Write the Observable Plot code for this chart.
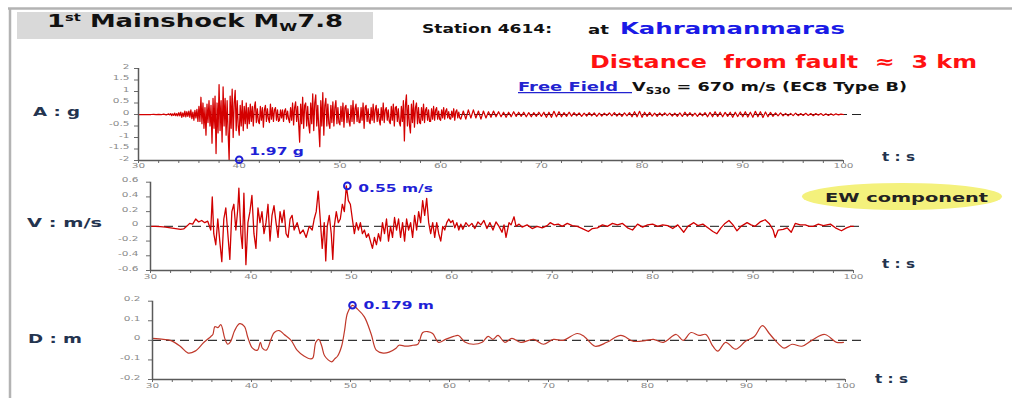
<!DOCTYPE html>
<html><head><meta charset="utf-8">
<script src="https://cdn.jsdelivr.net/npm/d3@7"></script>
<script src="https://cdn.jsdelivr.net/npm/@observablehq/plot@0.6"></script>
<style>
html,body{margin:0;padding:0;background:#fff;overflow:hidden}
#root{position:relative;width:1012px;height:398px;overflow:hidden;font-family:"DejaVu Sans",sans-serif}
#root svg{position:absolute;left:0;max-width:none}
</style></head><body><div id="root"></div>
<script>
// ---------- DATA ----------
// acceleration (g): three sampled segments
const aEarlyStart = 30, aEarlyStep = 0.25;
const aEarly = [0,0,0,0, 0,0,0.01,-0.01, 0.01,-0.01,0.02,-0.02];
const aStrongStart = 33, aStrongStep = 0.1;
const aStrong = [
 0.03,-0.02,0.04,-0.05,0.03,-0.04,0.06,-0.05,0.04,-0.06,
 0.08,-0.06,0.1,-0.12,0.07,-0.09,0.15,-0.1,0.12,-0.08,
 0.15,-0.12,0.2,-0.18,0.1,-0.25,0.18,-0.15,0.22,-0.3,
 0.35,-0.3,0.75,-0.4,0.5,-0.6,0.3,-0.9,0.45,-0.35,
 0.6,-0.5,0.4,-1.25,0.7,-0.6,0.8,-1.7,0.5,-0.8,
 1.3,-0.7,0.6,-1.2,1.2,-0.5,0.7,-0.9,0.6,-0.8,
 -2.0,0.8,-0.6,1.1,-1.0,0.5,1.05,-0.7,0.6,-0.5,
 -0.9,0.4,-0.5,0.6,-0.7,0.35,-0.4,0.5,-0.6,0.3,
 -0.4,0.45,-0.3,0.35,-0.5,0.3,0.55,-0.35,0.25,-0.3,
 -0.4,0.35,-0.25,0.3,-0.55,0.2,0.4,-0.3,0.25,-0.2,
 -0.35,0.45,-0.2,0.3,-0.3,0.2,0.3,-0.25,0.2,-0.3,
 -0.25,0.2,-0.15,0.2,-0.3,0.15,0.25,-0.2,0.15,-0.2,
 -0.35,0.3,-0.25,0.5,-0.45,0.3,0.55,-0.3,0.35,-0.4,
 -1.2,0.45,-0.4,0.75,-0.6,0.4,0.5,-0.5,0.35,-0.45,
 -0.8,0.5,-0.4,0.9,-0.7,0.5,0.85,-0.5,0.4,-0.6,
 -1.4,0.6,-0.5,0.95,-0.9,0.4,0.7,-0.5,0.45,-0.4,
 -0.6,0.4,-0.35,0.55,-0.5,0.3,0.6,-0.4,0.3,-0.35,
 -0.45,0.35,-0.3,0.5,-0.55,0.3,0.4,-0.35,0.25,-0.3,
 -0.5,0.4,-0.3,0.6,-0.4,0.25,0.45,-0.3,0.3,-0.35,
 -0.35,0.3,-0.25,0.5,-0.6,0.3,0.4,-0.3,0.25,-0.3,
 -0.4,0.3,-0.25,0.45,-0.35,0.2,0.4,-0.3,0.25,-0.25,
 -0.45,0.3,-0.25,0.5,-0.35,0.2,0.3,-0.25,0.2,-0.3,
 -0.4,0.35,-0.25,0.45,-0.5,0.3,0.35,-0.3,0.25,-0.35,
 -0.5,0.35,-0.3,0.6,-1.15,0.4,0.85,-0.5,0.4,-0.45,
 -0.8,0.45,-0.35,0.6,-0.55,0.3,0.5,-0.4,0.3,-0.35,
 -0.4,0.3,-0.25,0.45,-0.35,0.2,0.3,-0.25,0.2,-0.3,
 -0.3,0.25,-0.2,0.35,-0.25,0.2,0.3,-0.2,0.15,-0.2,
 -0.25,0.2,-0.15,0.3,-0.2,0.15,0.25,-0.15,0.12,-0.18,
 -0.2,0.15,-0.12,0.25,-0.25,0.12,0.2,-0.15,0.1,-0.15
];
const aLateStart = 62, aLateStep = 0.25;
const aLate = [
 -0.2,0.15,-0.2,0.2,
 -0.15,0.2,-0.15,0.15,
 -0.2,0.15,-0.15,0.12,
 -0.12,0.15,-0.1,0.12,
 -0.1,0.1,-0.12,0.1,
 -0.1,0.12,-0.08,0.1,
 -0.08,0.1,-0.1,0.08,
 -0.1,0.08,-0.08,0.1,
 -0.08,0.1,-0.12,0.1,
 -0.12,0.14,-0.1,0.12,
 -0.1,0.08,-0.08,0.1,
 -0.07,0.08,-0.06,0.07,
 -0.08,0.06,-0.07,0.08,
 -0.06,0.07,-0.08,0.06,
 -0.07,0.06,-0.05,0.07,
 -0.06,0.08,-0.07,0.06,
 -0.08,0.07,-0.06,0.08,
 -0.1,0.12,-0.1,0.14,
 -0.12,0.1,-0.08,0.09,
 -0.07,0.06,-0.08,0.07,
 -0.06,0.07,-0.05,0.06,
 -0.07,0.06,-0.08,0.07,
 -0.08,0.1,-0.07,0.08,
 -0.07,0.06,-0.08,0.07,
 -0.06,0.08,-0.1,0.09,
 -0.1,0.12,-0.09,0.1,
 -0.1,0.09,-0.08,0.1,
 -0.12,0.1,-0.09,0.11,
 -0.1,0.12,-0.11,0.1,
 -0.12,0.14,-0.1,0.12,
 -0.13,0.11,-0.1,0.09,
 -0.08,0.07,-0.06,0.07,
 -0.06,0.05,-0.06,0.05,
 -0.05,0.06,-0.05,0.04,
 -0.04,0.05,-0.04,0.04,
 -0.05,0.04,-0.03,0.04,
 -0.04,0.03,-0.04,0.03,
 -0.03,0.03,-0.02,0.02,
 0
];
// velocity (m/s): [t, v]
const vSeries = [
 [30,0],[30.5,0],[31,-0.005],[31.5,-0.01],[32,-0.02],[32.5,-0.03],[33,-0.04],[33.3,-0.035],[33.6,0],[33.9,0.04],
 [34.2,0.03],[34.5,0.1],[34.8,0.06],[35.1,0.08],[35.4,0.05],[35.7,0.07],[36.0,-0.05],[36.15,0.4],[36.3,-0.1],[36.5,-0.25],
 [36.7,0.1],[36.9,-0.2],[37.1,-0.48],[37.3,0.1],[37.5,0.25],[37.7,-0.1],[37.9,-0.45],[38.1,0.2],[38.3,0.3],[38.5,-0.05],
 [38.7,0.25],[38.8,0.52],[39.0,-0.1],[39.15,-0.3],[39.3,0.45],[39.5,-0.52],[39.7,0.05],[39.9,0.2],[40.1,0.42],[40.3,-0.1],
 [40.5,-0.3],[40.7,0.25],[40.9,0.05],[41.1,0.2],[41.3,-0.1],[41.5,0.05],[41.7,0.3],[41.9,-0.2],[42.1,0.15],[42.3,0.28],
 [42.5,0.05],[42.7,-0.15],[42.9,0.2],[43.1,0.05],[43.3,0.22],[43.5,-0.1],[43.7,-0.15],[43.9,0.1],[44.1,0.15],[44.3,-0.05],
 [44.6,0.05],[44.9,-0.1],[45.2,-0.05],[45.5,-0.15],[45.8,0],[46.1,-0.05],[46.3,0.1],[46.5,0.2],[46.7,0.48],[46.9,0.1],
 [47.1,-0.3],[47.3,0.05],[47.45,-0.47],[47.6,0],[47.8,0.15],[48.0,-0.1],[48.15,-0.45],[48.3,0],[48.5,0.2],[48.7,0.05],
 [48.9,0.1],[49.1,0.3],[49.3,0.2],[49.5,0.55],[49.7,0.35],[49.9,0.3],[50.1,0.1],[50.3,-0.1],[50.5,0.05],[50.7,-0.05],
 [50.9,0.05],[51.1,-0.1],[51.3,-0.05],[51.5,-0.15],[51.7,-0.1],[51.9,-0.2],[52.1,-0.3],[52.3,-0.15],[52.5,-0.25],[52.7,-0.1],
 [52.9,-0.2],[53.1,0.05],[53.3,-0.1],[53.5,0.1],[53.7,-0.2],[53.9,0],[54.1,-0.15],[54.3,0.12],[54.5,-0.05],[54.7,0.1],
 [54.9,-0.15],[55.1,0.05],[55.3,-0.2],[55.5,0.1],[55.7,-0.05],[55.9,0.05],[56.1,-0.15],[56.3,0.15],[56.5,-0.05],[56.7,0.2],
 [56.9,0.05],[57.1,0.35],[57.3,0.15],[57.5,0.38],[57.7,0.05],[57.9,-0.1],[58.1,0.05],[58.3,-0.15],[58.5,0.05],[58.7,-0.1],
 [58.9,-0.2],[59.1,0],[59.3,-0.05],[59.5,0.05],[59.7,0.1],[59.9,0.05],[60.1,0.08],[60.3,-0.02],[60.5,0.05],[60.7,-0.05],
 [60.9,0.03],[61.1,-0.04],[61.4,0.05],[61.7,0],[62.0,0.04],[62.3,-0.03],[62.6,0.06],[62.9,0.02],[63.2,0.08],[63.5,-0.03],
 [63.8,0.05],[64.1,-0.05],[64.4,0.06],[64.7,0],[65.0,-0.08],[65.2,0.02],[65.4,-0.15],[65.7,0.05],[65.9,0.02],[66.2,0.13],
 [66.4,0],[66.7,0.03],[67.0,-0.01],[67.5,0.02],[68.0,-0.03],[68.5,0],[69.0,-0.02],[69.5,0.01],[69.8,0.05],[70.2,0.02],
 [70.6,0.03],[71.0,0],[71.5,0.04],[72.0,0.01],[72.5,0],[73.0,-0.03],[73.6,-0.07],[74.0,-0.03],[74.5,-0.02],[75.0,0.02],
 [75.5,0],[76.0,0.04],[76.5,0.02],[77.0,0.04],[77.5,-0.02],[78.0,-0.05],[78.5,0.03],[79.0,-0.01],[79.5,0.02],[80.0,0.03],
 [80.5,0],[81.0,0.02],[81.5,0.01],[82.0,-0.03],[82.5,0.02],[83.1,-0.08],[83.5,0],[84.1,0.05],[84.5,0.01],[85.0,0.03],
 [85.5,-0.02],[86.0,-0.07],[86.4,-0.1],[86.8,-0.02],[87.2,0.04],[87.6,0.08],[88.0,0.02],[88.4,-0.06],[88.8,0],[89.4,0.05],
 [89.8,0.02],[90.2,0],[90.7,0.06],[91.2,0.09],[91.6,0.04],[92.0,-0.05],[92.2,-0.15],[92.5,-0.05],[93.0,-0.04],[93.4,-0.02],
 [93.8,-0.08],[94.2,0.04],[94.7,0.02],[95.2,0.02],[95.6,0],[96.0,0],[96.5,0.03],[97.0,0.01],[97.7,0.03],[98.2,-0.02],
 [98.8,-0.06],[99.3,-0.02],[99.7,0],[100,0]
];
// displacement (m): [t, d]
const dSeries = [
 [30,0.01],[31.1,0.005],[31.8,0],[32.8,-0.03],[33.6,-0.065],[34.3,-0.055],[35.2,-0.01],[35.9,0.02],[36.1,0.03],[36.3,0.07],
 [36.6,0.065],[36.9,0.08],[37.3,0.01],[37.6,-0.02],[37.9,-0.005],[38.3,0.05],[38.8,0.085],[39.3,0.07],[39.6,0.02],[40.1,-0.04],
 [40.6,-0.05],[40.9,-0.01],[41.1,-0.04],[41.5,-0.05],[42.0,0.01],[42.3,0.04],[42.8,0.05],[43.3,0.03],[44.0,0],[44.6,-0.05],
 [45.3,-0.08],[46.0,-0.095],[46.2,-0.09],[46.5,-0.01],[46.8,0.005],[47.1,-0.03],[47.4,-0.08],[48.1,-0.11],[48.4,-0.095],[48.7,-0.08],
 [49.1,-0.03],[49.4,0.05],[49.7,0.14],[50.2,0.179],[50.7,0.16],[51.4,0.12],[52.1,0.03],[52.6,-0.05],[53.3,-0.065],[53.9,-0.06],
 [54.6,-0.04],[54.9,-0.025],[55.6,-0.03],[56.3,-0.025],[56.8,-0.02],[57.3,0.04],[57.8,0.045],[58.3,0.035],[58.9,-0.01],[59.6,0.005],
 [60.4,0.02],[60.9,0.025],[61.6,-0.01],[62.4,-0.02],[63.3,-0.01],[63.9,0.02],[64.4,0.005],[64.9,0.025],[65.6,-0.01],[66.3,0.01],
 [67.2,-0.01],[68.5,0.005],[69.5,-0.02],[70.5,0.005],[71.5,0],[72.9,0.035],[73.6,0.02],[74.7,-0.03],[75.9,-0.01],[77.3,0.025],
 [78.6,-0.005],[79.9,0],[80.6,0.005],[81.6,-0.01],[82.9,0.03],[83.6,0],[84.4,0.04],[85.2,0.025],[85.9,0.03],[86.6,-0.03],
 [87.1,-0.055],[87.9,-0.01],[88.9,-0.045],[89.9,-0.005],[90.8,0.02],[91.6,0.075],[92.3,0.035],[92.9,0],[93.8,-0.04],[94.6,-0.02],
 [95.6,-0.03],[96.6,0],[97.9,0.03],[99.1,-0.01],[99.8,-0.01]
];
const xMinorTicks = [30,32,34,36,38,40,42,44,46,48,50,52,54,56,58,60,62,64,66,68,70,72,74,76,78,80,82,84,86,88,90,92,94,96,98,100];
const xTickLabels = [30,40,50,60,70,80,90,100];
const aTicks = [-2,-1.5,-1,-0.5,0,0.5,1,1.5,2];
const vTicks = [-0.6,-0.4,-0.2,0,0.2,0.4,0.6];
const dTicks = [-0.2,-0.1,0,0.1,0.2];
const aPeak = {t: 40.0, v: -1.97, label: "1.97 g"};
const vPeak = {t: 49.6, v: 0.55, label: "0.55 m/s"};
const dPeak = {t: 50.2, v: 0.179, label: "0.179 m"};

// ---------- BUILD ----------
const seg = (start, step, vals) => vals.map((v, i) => ({t: +(start + i * step).toFixed(3), v}));
const aData = [...seg(aEarlyStart, aEarlyStep, aEarly), ...seg(aStrongStart, aStrongStep, aStrong), ...seg(aLateStart, aLateStep, aLate)];
const vData = vSeries.map(([t, v]) => ({t, v}));
const dData = dSeries.map(([t, v]) => ({t, v}));

const root = document.getElementById("root");
const BLUE = "#1f1fd6";

const ov = d3.create("svg").attr("width", 1012).attr("height", 398).style("top", "0px");
ov.append("line").attr("x1", 8).attr("x2", 1012).attr("y1", 8.5).attr("y2", 8.5).attr("stroke", "#b3b3b3").attr("stroke-width", 2.5);
ov.append("line").attr("x1", 10).attr("x2", 10).attr("y1", 8).attr("y2", 398).attr("stroke", "#b3b3b3").attr("stroke-width", 2.5);
ov.append("rect").attr("x", 17).attr("y", 12).attr("width", 356).attr("height", 27).attr("fill", "#d9d9d9");
ov.append("ellipse").attr("cx", 902).attr("cy", 196.5).attr("rx", 100).attr("ry", 13.5).attr("fill", "#f4f17c");

function T(x, y, w, size, fill, parts) {
  const t = ov.append("text").attr("x", x).attr("y", y).attr("font-size", size)
    .attr("font-weight", "bold").attr("fill", fill).attr("font-family", "DejaVu Sans")
    .attr("textLength", w).attr("lengthAdjust", "spacingAndGlyphs").style("white-space", "pre");
  parts.forEach(p => {
    const s = t.append("tspan").text(p.s);
    if (p.size) s.attr("font-size", p.size);
    if (p.dy) s.attr("dy", p.dy);
  });
}
const NAVY = "#24344f";
T(47, 26.7, 296, 17.5, "#111", [{s: "1"}, {s: "st", size: 10, dy: -6}, {s: " Mainshock M", dy: 6}, {s: "W", size: 11, dy: 4}, {s: "7.8", dy: -4}]);
T(422, 33, 130, 11.5, "#111", [{s: "Station 4614:"}]);
T(588, 34.3, 21, 13, "#111", [{s: "at"}]);
T(620, 34.3, 225, 16, "#1a1ae6", [{s: "Kahramanmaras"}]);
T(590, 68.3, 387, 18, "#ff1111", [{s: "Distance  from fault  \u2248  3 km"}]);
T(518, 90.7, 100, 11.5, "#2323d0", [{s: "Free Field"}]);
ov.append("line").attr("x1", 518).attr("x2", 632).attr("y1", 92.6).attr("y2", 92.6).attr("stroke", "#2323d0").attr("stroke-width", 1.2);
T(632, 90.7, 275, 12, "#111", [{s: "V"}, {s: "S30", size: 8, dy: 3}, {s: " = 670 m/s (EC8 Type B)", dy: -3}]);
T(825, 201.7, 163, 12, "#222", [{s: "EW component"}]);
T(882, 160.7, 33, 13, NAVY, [{s: "t : s"}]);
T(882, 267.7, 33, 13, NAVY, [{s: "t : s"}]);
T(875, 382.7, 33, 13, NAVY, [{s: "t : s"}]);
T(33, 116, 47, 13, NAVY, [{s: "A : g"}]);
T(27, 226.7, 75, 13, NAVY, [{s: "V : m/s"}]);
T(28, 343, 54, 13, NAVY, [{s: "D : m"}]);
root.appendChild(ov.node());

function stretch(el, s) {
  const tr = el.getAttribute("transform") || "";
  const x = +el.getAttribute("x") || 0, y = +el.getAttribute("y") || 0;
  el.removeAttribute("x"); el.removeAttribute("y");
  el.setAttribute("transform", `${tr} translate(${x},${y}) scale(${s},1)`);
}

function panel(o) {
  const svg = Plot.plot({
    width: 1012, height: o.height,
    marginTop: o.mt, marginBottom: o.mb, marginLeft: o.ml, marginRight: o.mr,
    style: {background: "transparent", fontFamily: "DejaVu Sans", fontSize: "7.5px", color: "#8a8a8a", overflow: "visible"},
    x: {domain: [30, 100]},
    y: {domain: o.yDomain},
    marks: [
      Plot.axisX(xMinorTicks, {tickFormat: d => xTickLabels.includes(d) ? String(d) : "", tickSize: 3, tickPadding: o.xpad, stroke: "#6a6a6a", fill: "#8a8a8a", label: null}),
      Plot.axisY(o.yTicks, {tickFormat: d => String(d), tickSize: 4, tickPadding: o.ypad, stroke: "#6a6a6a", fill: "#8a8a8a", label: null}),
      Plot.ruleY([0], {x1: 30, x2: o.zeroEnd, stroke: o.zeroStroke, strokeWidth: 1.1, strokeDasharray: "9,5"}),
      Plot.line(o.data, {x: "t", y: "v", stroke: o.stroke, strokeWidth: o.sw, curve: o.curve || "linear"}),
      Plot.ruleX([30], {stroke: "#5a5a5a", strokeWidth: 1.5}),
      Plot.ruleY([o.yDomain[0]], {stroke: "#5a5a5a", strokeWidth: 1.5}),
      Plot.dot([o.peak], {x: "t", y: "v", r: 3.3, stroke: BLUE, strokeWidth: 2, fill: "none"}),
      Plot.text([o.peak], {x: "t", y: "v", text: "label", textAnchor: "start", lineAnchor: "bottom", dx: o.ldx, dy: o.ldy, fill: BLUE, fontWeight: "bold", fontSize: 10})
    ]
  });
  svg.style.top = o.top + "px";
  svg.querySelectorAll("text").forEach(t => {
    const s = t.textContent.trim();
    if (!s) return;
    stretch(t, s === o.peak.label ? 1.55 : 1.4);
  });
  root.appendChild(svg);
}

panel({top: 60, height: 125, mt: 8, mb: 25, ml: 138, mr: 169, yDomain: [-2, 2], yTicks: aTicks,
  data: aData, stroke: "#d40000", sw: 1.25, zeroEnd: 101.9, zeroStroke: "#222", peak: aPeak, ldx: 10, ldy: -5, xpad: 4, ypad: 5});
panel({top: 170, height: 120, mt: 11.7, mb: 20, ml: 150, mr: 159, yDomain: [-0.6, 0.6], yTicks: vTicks,
  data: vData, stroke: "#d00000", sw: 1.3, zeroEnd: 101, zeroStroke: "#444", peak: vPeak, ldx: 11, ldy: 6.5, xpad: 5, ypad: 8});
panel({top: 290, height: 108, mt: 10.7, mb: 19, ml: 152, mr: 167, yDomain: [-0.2, 0.2], yTicks: dTicks,
  data: dData, stroke: "#c0392b", sw: 1.2, curve: "catmull-rom", zeroEnd: 101.7, zeroStroke: "#333", peak: dPeak, ldx: 11, ldy: 3.5, xpad: 5, ypad: 8});
</script></body></html>
